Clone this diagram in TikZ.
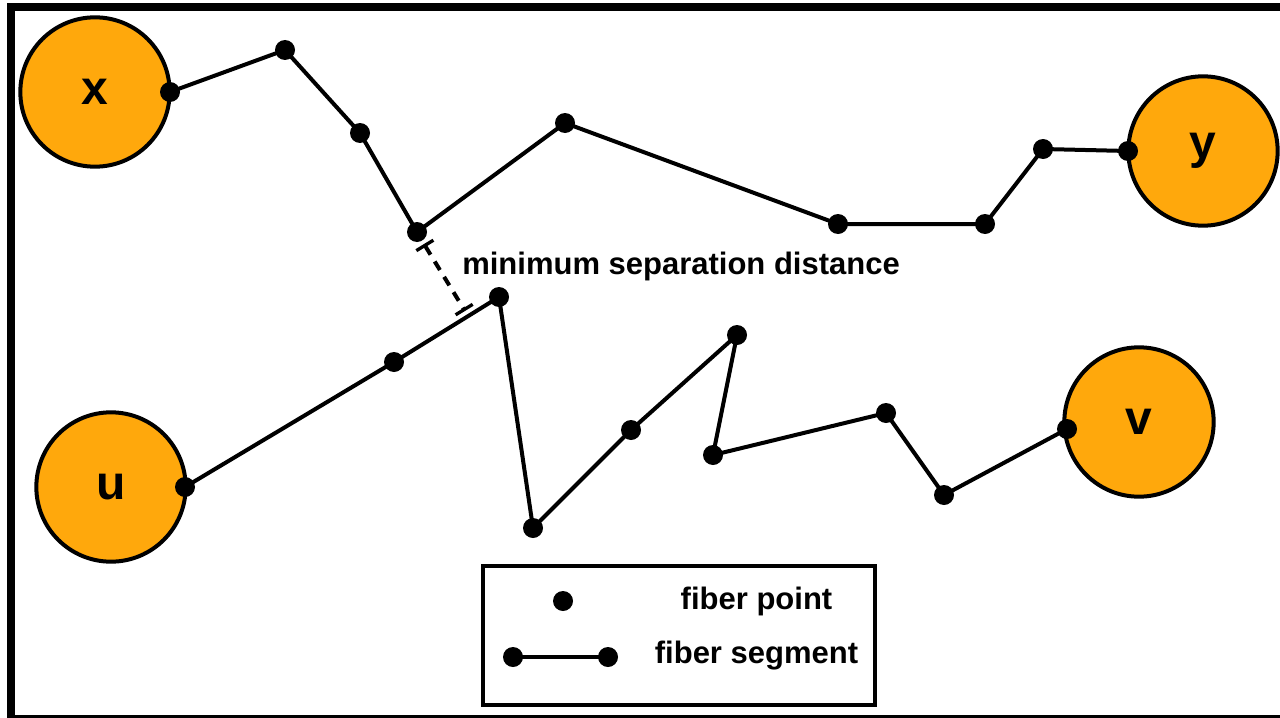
\documentclass[tikz,border=0pt]{standalone}
\usepackage{fontspec}
\setmainfont{Liberation Sans}
\usetikzlibrary{arrows.meta}
\definecolor{nodeorange}{RGB}{255,168,12}
\tikzset{
  endpt/.style={circle, draw=black, fill=nodeorange, line width=3pt, inner sep=0pt, minimum size=112pt, font=\fontsize{36}{40}\selectfont\bfseries},
  fpt/.style={circle, fill=black, inner sep=0pt, minimum size=15pt},
  seg/.style={line width=3pt},
  lbl/.style={font=\fontsize{23.25}{26}\selectfont\bfseries, inner sep=0pt}
}
\begin{document}
\begin{tikzpicture}[x=0.75pt, y=-0.75pt]
\clip (0,0) rectangle (1280,717);
\useasboundingbox (0,0) rectangle (1280,717);
\fill[white] (0,0) rectangle (1280,717);
\draw[line width=6pt] (11,7) rectangle (1300,719);

% end nodes
\node[endpt] (x) at (95,92) {x};
\node[endpt] (y) at (1203,151) {y};
\node[endpt] (u) at (111,487) {u};
\node[endpt] (v) at (1139,422) {v};

% fiber points, upper fiber
\node[fpt] (a1) at (170,92) {};
\node[fpt] (a2) at (285,50) {};
\node[fpt] (a3) at (360,133) {};
\node[fpt] (a4) at (417,232) {};
\node[fpt] (a5) at (565,123) {};
\node[fpt] (a6) at (838,224) {};
\node[fpt] (a7) at (985,224) {};
\node[fpt] (a8) at (1043,149) {};
\node[fpt] (a9) at (1128,151) {};

% fiber points, lower fiber
\node[fpt] (b1) at (185,487) {};
\node[fpt] (b2) at (394,362) {};
\node[fpt] (b3) at (499,297) {};
\node[fpt] (b4) at (533,528) {};
\node[fpt] (b5) at (631,430) {};
\node[fpt] (b6) at (737,335) {};
\node[fpt] (b7) at (713,455) {};
\node[fpt] (b8) at (886,413) {};
\node[fpt] (b9) at (944,495) {};
\node[fpt] (b10) at (1067,429) {};

\draw[seg] (a1.center) -- (a2.center) -- (a3.center) -- (a4.center) -- (a5.center) -- (a6.center) -- (a7.center) -- (a8.center) -- (a9.center);
\draw[seg] (b1.center) -- (b2.center) -- (b3.center) -- (b4.center) -- (b5.center) -- (b6.center) -- (b7.center) -- (b8.center) -- (b9.center) -- (b10.center);

% minimum separation distance
\coordinate (d1) at (424,244);
\coordinate (d2) at (465,311);
\draw[line width=3pt, dash pattern=on 7.5pt off 6pt, {Bar[width=15pt,line width=2.5pt]}-{Bar[width=15pt,line width=2.5pt]}] (d1) -- (d2);
\node[lbl, anchor=west] (dlabel) at (462,266) {minimum separation distance};

% legend
\node[draw, line width=3pt, minimum width=294pt, minimum height=104pt, inner sep=0pt] (legend) at (679,635.5) {};
\node[fpt] (l1) at (563,601) {};
\node[lbl] (t1) at (756.5,601) {fiber point};
\node[fpt] (l2) at (513,657) {};
\node[fpt] (l3) at (608,657) {};
\draw[seg] (l2.center) -- (l3.center);
\node[lbl] (t2) at (756.5,656) {fiber segment};
\end{tikzpicture}
\end{document}
